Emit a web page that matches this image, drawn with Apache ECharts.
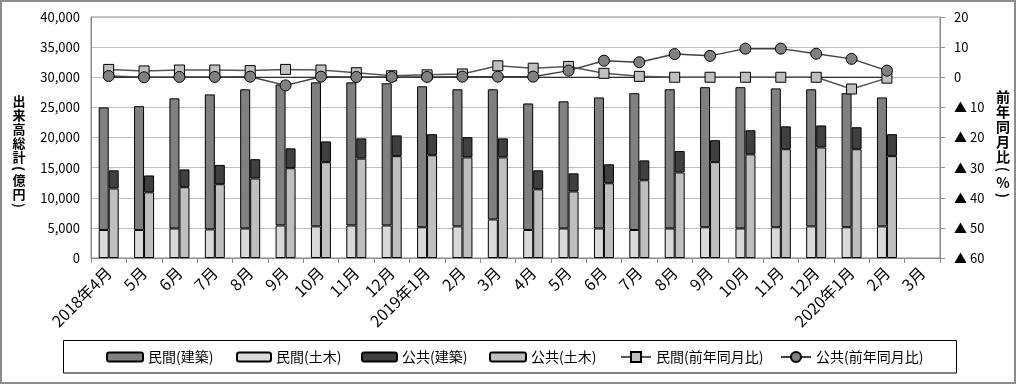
<!DOCTYPE html>
<html>
<head>
<meta charset="utf-8">
<script src="https://cdn.jsdelivr.net/npm/echarts@6/dist/echarts.min.js"></script>
<style>
html,body{margin:0;padding:0;background:#fff;}
#chart{width:1016px;height:384px;}
</style>
</head>
<body>
<div id="chart"></div>
<script>
const categories = ['2018年4月','5月','6月','7月','8月','9月','10月','11月','12月','2019年1月','2月','3月','4月','5月','6月','7月','8月','9月','10月','11月','12月','2020年1月','2月','3月'];
// 億円
const privateBuilding = [20350,20550,21600,22400,23100,23400,23900,23750,23600,23400,22750,21600,21000,21100,21750,22700,23100,23250,23450,23050,22750,22250,21400,null];
const privateCivil    = [4650,4650,4900,4750,4900,5400,5250,5400,5400,5100,5250,6400,4650,4900,4900,4650,4900,5100,4900,5100,5250,5100,5250,null];
const publicBuilding  = [3000,2800,2950,3200,3200,3300,3450,3350,3450,3500,3350,3150,3150,3000,3150,3300,3550,3650,4000,3800,3650,3650,3650,null];
const publicCivil     = [11550,10900,11750,12250,13200,14900,15900,16500,16900,17050,16700,16700,11400,11050,12400,12900,14200,15900,17200,18050,18350,18050,16900,null];
// 前年同月比 (%)
const privateYoY = [2.6,2.1,2.4,2.4,2.2,2.6,2.4,1.5,0.5,0.8,1.1,3.8,3.0,3.6,1.3,0.3,0,0,0,0,0,-3.9,-0.3,null];
const publicYoY  = [0.4,0,0.1,0.1,0.2,-2.7,0.2,0.1,0.1,0.1,0.2,0.2,0.2,2.2,5.5,5.0,7.7,7.1,9.5,9.5,7.8,6.1,2.2,null];
const zeroLine   = [0,0,0,0,0,0,0,0,0,0,0,0,0,0,0,0,0,0,0,0,0,0,0,null];
const leftTicks  = {min:0, max:40000, interval:5000};
const rightTicks = {min:-60, max:20, interval:10};
const leftName  = ['出','来','高','総','計','(','億','円',')'];
const rightName = ['前','年','同','月','比','(','%',')'];

const FONT = "'Noto Sans CJK JP', 'Noto Sans', sans-serif";
const chart = echarts.init(document.getElementById('chart'), null, {renderer:'canvas'});

// stacked vertical title: each character its own text element
function vertTitle(chars, cx, top, size, step, parenStep){
  const els = [];
  let y = top;
  chars.forEach(c => {
    const isParen = (c === '(' || c === ')');
    const h = isParen ? parenStep : step;
    els.push({
      type:'text', silent:true, x:cx, y:y + h / 2,
      rotation: isParen ? -Math.PI / 2 : 0,
      style:{text:c, fontSize:size, fontWeight:'bold', fontFamily:FONT, fill:'#000',
             align:'center', verticalAlign:'middle'}
    });
    y += h;
  });
  return els;
}
const bar = (name, data, stack, color) => ({
  name, type:'bar', data, stack, yAxisIndex:0, barWidth:10, barGap:'0%',
  itemStyle:{color, borderColor:'#000', borderWidth:1}, emphasis:{disabled:true}
});
const legendBase = (name, left, w, h) => ({
  data:[name], left, top:350, padding:0, itemWidth:w, itemHeight:h, selectedMode:false,
  textStyle:{fontSize:14, color:'#000', fontFamily:FONT}
});

const option = {
  animation:false,
  textStyle:{fontFamily:FONT},
  grid:{left:91, right:76, top:17, bottom:126, show:true, borderColor:'#8a8a8a', borderWidth:1, outerBoundsMode:'none'},
  legend:[
    legendBase('民間(建築)',106,36,9),
    legendBase('民間(土木)',236,34,9),
    legendBase('公共(建築)',361,35,9),
    legendBase('公共(土木)',489,36,9),
    legendBase('民間(前年同月比)',620,30,12.5),
    legendBase('公共(前年同月比)',780,30,12.5)
  ],
  xAxis:{
    type:'category', data:categories, boundaryGap:true,
    axisLine:{lineStyle:{color:'#8a8a8a'}},
    axisTick:{show:true, length:5, lineStyle:{color:'#8a8a8a'}},
    axisLabel:{interval:0, rotate:45, fontSize:16, color:'#000', margin:12, fontFamily:FONT}
  },
  yAxis:[
    {type:'value', min:leftTicks.min, max:leftTicks.max, interval:leftTicks.interval, position:'left',
     axisLine:{show:true, lineStyle:{color:'#8a8a8a'}}, axisTick:{show:false},
     splitLine:{lineStyle:{color:'#c0c0c0'}},
     axisLabel:{fontSize:13, color:'#000', margin:11, fontFamily:FONT,
       formatter:v => v.toLocaleString('en-US')}},
    {type:'value', min:rightTicks.min, max:rightTicks.max, interval:rightTicks.interval, position:'right',
     axisLine:{show:true, lineStyle:{color:'#8a8a8a'}},
     axisTick:{show:true, length:5, lineStyle:{color:'#8a8a8a'}},
     splitLine:{show:false},
     axisLabel:{fontSize:13, color:'#000', margin:14, fontFamily:FONT,
       formatter:v => v < 0 ? '▲ ' + (-v) : String(v)}}
  ],
  series:[
    bar('民間(土木)', privateCivil, 'private', '#d9d9d9'),
    bar('民間(建築)', privateBuilding, 'private', '#808080'),
    bar('公共(土木)', publicCivil, 'public', '#bfbfbf'),
    bar('公共(建築)', publicBuilding, 'public', '#404040'),
    {name:'zero', type:'line', data:zeroLine, yAxisIndex:1, symbol:'none', silent:true,
     lineStyle:{color:'#000', width:1}, emphasis:{disabled:true}},
    {name:'民間(前年同月比)', type:'line', data:privateYoY, yAxisIndex:1, symbol:'rect', symbolSize:10,
     itemStyle:{color:'#c0c0c0', borderColor:'#000', borderWidth:1},
     lineStyle:{color:'#555', width:1.5}, emphasis:{disabled:true}},
    {name:'公共(前年同月比)', type:'line', data:publicYoY, yAxisIndex:1, symbol:'circle', symbolSize:11,
     itemStyle:{color:'#808080', borderColor:'#000', borderWidth:1},
     lineStyle:{color:'#404040', width:1.5}, emphasis:{disabled:true}}
  ],
  graphic:[
    {type:'rect', shape:{x:1, y:1, width:1014, height:382}, style:{fill:'none', stroke:'#8c8c8c', lineWidth:2}, silent:true},
    {type:'rect', shape:{x:63.5, y:340.5, width:893, height:32.5}, style:{fill:'none', stroke:'#000', lineWidth:1}, silent:true}
  ].concat(vertTitle(leftName, 19, 94, 13, 14, 9))
   .concat(vertTitle(rightName, 1003, 89, 14, 15, 11))
};
chart.setOption(option);
</script>
</body>
</html>
